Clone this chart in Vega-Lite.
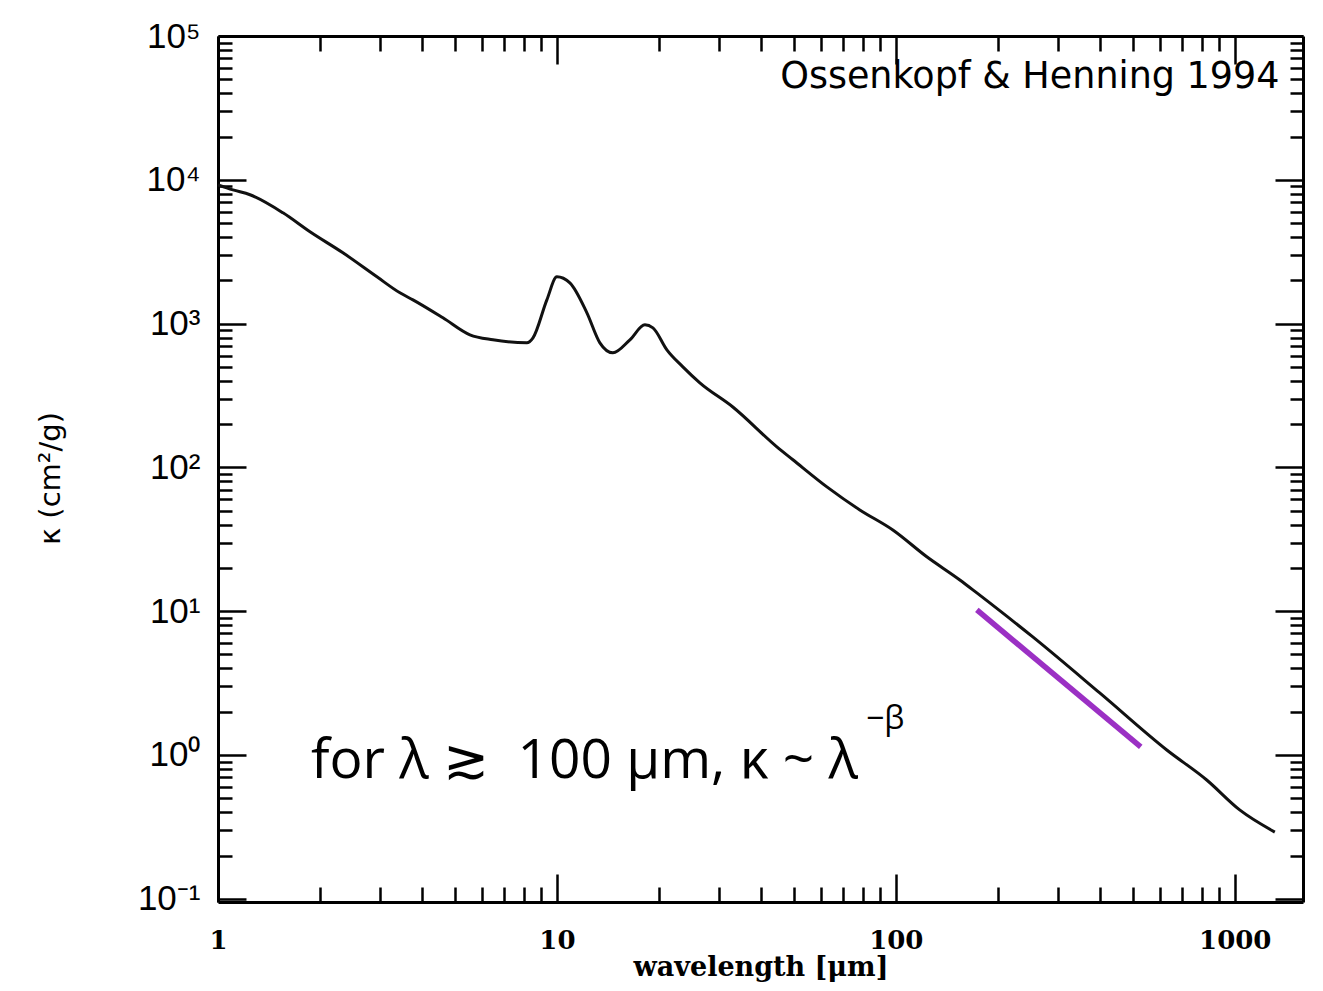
{
  "$schema": "https://vega.github.io/schema/vega-lite/v6.json",
  "width": 1085,
  "height": 866,
  "autosize": {"type": "none"},
  "padding": {"left": 218, "top": 36, "right": 20, "bottom": 89},
  "background": "white",
  "config": {
    "view": {"stroke": null},
    "axis": {
      "grid": false,
      "domainColor": "#000",
      "domainWidth": 3,
      "tickColor": "#000",
      "tickWidth": 2.5,
      "labelColor": "#000",
      "titleColor": "#000",
      "labelOverlap": false,
      "labelFlush": false
    }
  },
  "datasets": {
    "opacity": [
      {"wavelength": 1.0, "kappa": 9230},
      {"wavelength": 1.107, "kappa": 8510},
      {"wavelength": 1.243, "kappa": 7870},
      {"wavelength": 1.555, "kappa": 5890},
      {"wavelength": 1.868, "kappa": 4350},
      {"wavelength": 2.337, "kappa": 3105},
      {"wavelength": 2.944, "kappa": 2115},
      {"wavelength": 3.442, "kappa": 1637},
      {"wavelength": 3.761, "kappa": 1463},
      {"wavelength": 4.611, "kappa": 1097},
      {"wavelength": 5.538, "kappa": 835},
      {"wavelength": 6.475, "kappa": 771},
      {"wavelength": 8.155, "kappa": 735},
      {"wavelength": 8.5, "kappa": 796},
      {"wavelength": 9.34, "kappa": 1463},
      {"wavelength": 10.0, "kappa": 2115},
      {"wavelength": 10.92, "kappa": 1920},
      {"wavelength": 12.26, "kappa": 1188},
      {"wavelength": 13.39, "kappa": 735},
      {"wavelength": 14.63, "kappa": 626},
      {"wavelength": 16.42, "kappa": 771},
      {"wavelength": 18.18, "kappa": 980},
      {"wavelength": 19.2, "kappa": 934},
      {"wavelength": 21.11, "kappa": 657},
      {"wavelength": 23.53, "kappa": 500},
      {"wavelength": 26.41, "kappa": 387},
      {"wavelength": 33.04, "kappa": 263},
      {"wavelength": 44.56, "kappa": 139},
      {"wavelength": 49.7, "kappa": 113},
      {"wavelength": 62.6, "kappa": 73.2},
      {"wavelength": 78.3, "kappa": 50.6},
      {"wavelength": 98.0, "kappa": 36.7},
      {"wavelength": 123.4, "kappa": 23.9},
      {"wavelength": 154.5, "kappa": 16.5},
      {"wavelength": 173.4, "kappa": 13.4},
      {"wavelength": 253.6, "kappa": 6.62},
      {"wavelength": 399.6, "kappa": 2.7},
      {"wavelength": 630.2, "kappa": 1.083},
      {"wavelength": 826.6, "kappa": 0.67},
      {"wavelength": 1034, "kappa": 0.415},
      {"wavelength": 1313, "kappa": 0.291}
    ],
    "fit": [
      {"wavelength": 173.4, "kappa": 10.2},
      {"wavelength": 528, "kappa": 1.137}
    ]
  },
  "layer": [
    {
      "data": {"name": "opacity"},
      "mark": {"type": "line", "color": "#111", "strokeWidth": 3, "interpolate": "monotone"},
      "encoding": {
        "x": {
          "field": "wavelength", "type": "quantitative",
          "scale": {"type": "log", "domain": [1, 1590], "nice": false},
          "axis": {
            "orient": "bottom",
            "values": [1,2,3,4,5,6,7,8,9,10,20,30,40,50,60,70,80,90,100,200,300,400,500,600,700,800,900,1000],
            "tickSize": {"condition": {"test": "abs(log(datum.value)/LN10 - round(log(datum.value)/LN10)) < 0.001", "value": -28}, "value": -15},
            "labelExpr": "abs(log(datum.value)/LN10 - round(log(datum.value)/LN10)) < 0.001 ? format(datum.value, 'd') : ''",
            "labelPadding": 53,
            "labelFont": "DejaVu Serif",
            "labelFontWeight": "bold",
            "labelFontSize": 26,
            "title": "wavelength [μm]",
            "titleFont": "DejaVu Serif",
            "titleFontWeight": "bold",
            "titleFontSize": 27,
            "titlePadding": -12
          }
        },
        "y": {
          "field": "kappa", "type": "quantitative",
          "scale": {"type": "log", "domain": [0.095, 100000], "nice": false},
          "axis": {
            "orient": "left",
            "values": [0.1,0.2,0.3,0.4,0.5,0.6,0.7,0.8,0.9,1,2,3,4,5,6,7,8,9,10,20,30,40,50,60,70,80,90,100,200,300,400,500,600,700,800,900,1000,2000,3000,4000,5000,6000,7000,8000,9000,10000,20000,30000,40000,50000,60000,70000,80000,90000,100000],
            "tickSize": {"condition": {"test": "abs(log(datum.value)/LN10 - round(log(datum.value)/LN10)) < 0.001", "value": -28}, "value": -14},
            "labelExpr": "abs(log(datum.value)/LN10 - round(log(datum.value)/LN10)) < 0.001 ? '10' + ['⁻¹','⁰','¹','²','³','⁴','⁵'][round(log(datum.value)/LN10) + 1] : ''",
            "labelPadding": 46,
            "labelFont": "Liberation Sans",
            "labelFontSize": 35,
            "title": "κ (cm²/g)",
            "titleFont": "DejaVu Sans",
            "titleFontWeight": "normal",
            "titleFontSize": 29,
            "titlePadding": 72,
            "titleY": 442
          }
        }
      }
    },
    {
      "data": {"name": "fit"},
      "mark": {"type": "line", "color": "#9b30c4", "strokeWidth": 5.5},
      "encoding": {
        "x": {
          "field": "wavelength", "type": "quantitative",
          "scale": {"type": "log", "domain": [1, 1590], "nice": false},
          "axis": {
            "orient": "top",
            "values": [1,2,3,4,5,6,7,8,9,10,20,30,40,50,60,70,80,90,100,200,300,400,500,600,700,800,900,1000],
            "tickSize": {"condition": {"test": "abs(log(datum.value)/LN10 - round(log(datum.value)/LN10)) < 0.001", "value": -28}, "value": -15},
            "labels": false,
            "title": null
          }
        },
        "y": {
          "field": "kappa", "type": "quantitative",
          "scale": {"type": "log", "domain": [0.095, 100000], "nice": false},
          "axis": {
            "orient": "right",
            "values": [0.1,0.2,0.3,0.4,0.5,0.6,0.7,0.8,0.9,1,2,3,4,5,6,7,8,9,10,20,30,40,50,60,70,80,90,100,200,300,400,500,600,700,800,900,1000,2000,3000,4000,5000,6000,7000,8000,9000,10000,20000,30000,40000,50000,60000,70000,80000,90000,100000],
            "tickSize": {"condition": {"test": "abs(log(datum.value)/LN10 - round(log(datum.value)/LN10)) < 0.001", "value": -28}, "value": -13},
            "labels": false,
            "title": null
          }
        }
      }
    },
    {
      "data": {"values": [{}]},
      "mark": {"type": "text", "font": "DejaVu Sans", "fontSize": 36.5, "align": "center", "baseline": "alphabetic", "color": "#000"},
      "encoding": {
        "x": {"datum": 248.5, "type": "quantitative", "scale": {"type": "log", "domain": [1, 1590], "nice": false}, "axis": null},
        "y": {"datum": 43650, "type": "quantitative", "scale": {"type": "log", "domain": [0.095, 100000], "nice": false}, "axis": null},
        "text": {"value": "Ossenkopf & Henning 1994"}
      }
    },
    {
      "data": {"values": [{}]},
      "mark": {"type": "text", "font": "Open Sans", "fontSize": 55, "align": "left", "baseline": "alphabetic", "color": "#000"},
      "encoding": {
        "x": {"datum": 1.88, "type": "quantitative", "scale": {"type": "log", "domain": [1, 1590], "nice": false}, "axis": null},
        "y": {"datum": 0.692, "type": "quantitative", "scale": {"type": "log", "domain": [0.095, 100000], "nice": false}, "axis": null},
        "text": {"value": "for λ ≳\u00a0 100 μm, κ ~ λ"}
      }
    },
    {
      "data": {"values": [{}]},
      "mark": {"type": "text", "font": "Open Sans", "fontSize": 32, "align": "left", "baseline": "alphabetic", "color": "#000"},
      "encoding": {
        "x": {"datum": 81.6, "type": "quantitative", "scale": {"type": "log", "domain": [1, 1590], "nice": false}, "axis": null},
        "y": {"datum": 1.516, "type": "quantitative", "scale": {"type": "log", "domain": [0.095, 100000], "nice": false}, "axis": null},
        "text": {"value": "−β"}
      }
    }
  ],
  "resolve": {"axis": {"x": "independent", "y": "independent"}}
}
